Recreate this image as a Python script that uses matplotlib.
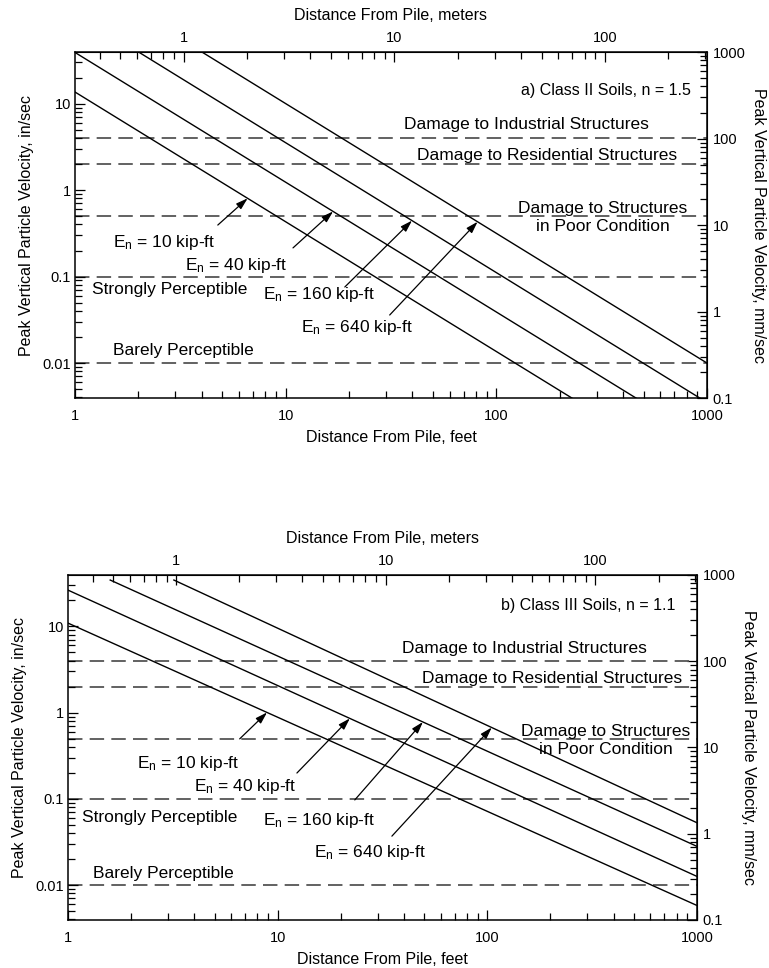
import matplotlib
matplotlib.use("Agg")
import matplotlib.pyplot as plt
import matplotlib.ticker as mticker
import numpy as np

plt.rcParams["font.family"] = ["Liberation Sans", "DejaVu Sans"]
plt.rcParams["mathtext.fontset"] = "custom"
plt.rcParams["mathtext.rm"] = "Liberation Sans"
plt.rcParams["mathtext.it"] = "Liberation Sans"

MM_PER_IN = 25.4
M_PER_FT = 0.3048

# axis ranges: feet / in/sec on main axes, meters / mm/sec on the secondary ones
dist_ft_lim = (1, 1000)
ppv_mm_lim = (0.1, 1000)

# labelled tick values
ft_ticks = [1, 10, 100, 1000]
m_ticks = [1, 10, 100]
in_ticks = [0.01, 0.1, 1, 10]
mm_ticks = [0.1, 1, 10, 100, 1000]

energy_kipft = ["10", "40", "160", "640"]

# vibration criteria (in/sec)
criteria_ppv = [4.0, 2.0, 0.5, 0.1, 0.01]

# Class II soils, n = 1.5 - end points of each E_n line
ii_dist_start = [1, 1, 1, 1]
ii_ppv_start = [13.6, 39.0, 112.0, 316.0]
ii_dist_end = [1000, 1000, 1000, 1000]
ii_ppv_end = [0.00043, 0.00123, 0.0035, 0.0100]
ii_arrow_dist = [6.6, 16.8, 39.8, 81.5]

# Class III soils, n = 1.1
iii_dist_start = [1, 1, 1.59, 3.2]
iii_ppv_start = [10.9, 26.3, 34.4, 34.4]
iii_dist_end = [1000, 1000, 1000, 1000]
iii_ppv_end = [0.0058, 0.0126, 0.0281, 0.0528]
iii_arrow_dist = [8.9, 22.1, 49.3, 105.0]


def ppv_on_line(d, d0, v0, d1, v1):
    """Value of a straight log-log line at distance d."""
    t = (np.log10(d) - np.log10(d0)) / (np.log10(d1) - np.log10(d0))
    return 10 ** (np.log10(v0) + t * (np.log10(v1) - np.log10(v0)))


def fmt(v, _):
    return f"{v:g}"


def log_ticks(axis, majors):
    axis.set_major_locator(mticker.FixedLocator(majors))
    axis.set_minor_locator(mticker.LogLocator(base=10, subs=np.arange(2, 10)))
    axis.set_major_formatter(mticker.FuncFormatter(fmt))
    axis.set_minor_formatter(mticker.NullFormatter())


def draw_panel(ax, title, d0s, v0s, d1s, v1s, arrow_d, lay):
    ax.set_xscale("log")
    ax.set_yscale("log")
    ax.set_xlim(*dist_ft_lim)
    ax.set_ylim(ppv_mm_lim[0] / MM_PER_IN, ppv_mm_lim[1] / MM_PER_IN)

    # criteria lines
    for v in criteria_ppv:
        ax.axhline(v, color="#555555", lw=1.3, ls=(0, (8, 4)), zorder=1)

    # attenuation lines
    for d0, v0, d1, v1 in zip(d0s, v0s, d1s, v1s):
        ax.plot([d0, d1], [v0, v1], color="black", lw=1.0, zorder=2)

    tk = dict(fontsize=12.5, transform=ax.transAxes, zorder=3)
    ax.text(lay["title"][0], lay["title"][1], title, ha="right", va="center",
            fontsize=11.5, transform=ax.transAxes)
    ax.text(*lay["ind"], "Damage to Industrial Structures", ha="center", va="center", **tk)
    ax.text(*lay["res"], "Damage to Residential Structures", ha="center", va="center", **tk)
    ax.text(*lay["poor"], "Damage to Structures\nin Poor Condition", ha="center", va="center",
            linespacing=1.25, **tk)
    ax.text(*lay["strong"], "Strongly Perceptible", ha="left", va="center", **tk)
    ax.text(*lay["barely"], "Barely Perceptible", ha="left", va="center", **tk)

    for i, e in enumerate(energy_kipft):
        ax.text(*lay["elab"][i], r"E$_{\mathrm{n}}$ = " + e + " kip-ft",
                ha="center", va="center", **tk)
        hx = arrow_d[i]
        hy = ppv_on_line(hx, d0s[i], v0s[i], d1s[i], v1s[i])
        ax.annotate("", xy=(hx, hy), xycoords="data",
                    xytext=lay["tail"][i], textcoords="axes fraction",
                    arrowprops=dict(arrowstyle="-|>,head_length=0.7,head_width=0.22",
                                    color="black", lw=0.9, shrinkA=0, shrinkB=0))

    # feet / in/sec
    log_ticks(ax.xaxis, ft_ticks)
    log_ticks(ax.yaxis, in_ticks)
    ax.tick_params(which="both", direction="in", labelsize=10.5, width=0.9)
    ax.tick_params(which="major", length=7)
    ax.tick_params(which="minor", length=5)
    ax.tick_params(axis="x", pad=8)
    ax.tick_params(axis="y", pad=3)
    ax.set_xlabel("Distance From Pile, feet", fontsize=11.5, labelpad=5)
    ax.set_ylabel("Peak Vertical Particle Velocity, in/sec", fontsize=11.5, labelpad=6)

    # meters
    top = ax.secondary_xaxis("top", functions=(lambda x: x * M_PER_FT, lambda x: x / M_PER_FT))
    log_ticks(top.xaxis, m_ticks)
    top.tick_params(which="both", direction="in", labelsize=10.5, width=0.9, pad=5)
    top.tick_params(which="major", length=7)
    top.tick_params(which="minor", length=5)
    top.set_xlabel("Distance From Pile, meters", fontsize=11.5, labelpad=8)

    # mm/sec
    right = ax.secondary_yaxis("right", functions=(lambda v: v * MM_PER_IN, lambda v: v / MM_PER_IN))
    log_ticks(right.yaxis, mm_ticks)
    right.tick_params(which="both", direction="in", labelsize=10.5, width=0.9, pad=4)
    right.tick_params(which="major", length=7)
    right.tick_params(which="minor", length=5)
    right.set_ylabel("Peak Vertical Particle Velocity, mm/sec", fontsize=11.5,
                     rotation=270, va="bottom", labelpad=4)

    for s in ax.spines.values():
        s.set_linewidth(1.1)


fig = plt.figure(figsize=(7.69, 9.68), dpi=100, facecolor="white")
ax_top = fig.add_axes([0.0975, 0.5888, 0.8218, 0.3574])
ax_bot = fig.add_axes([0.0884, 0.0496, 0.8179, 0.3564])

layout_ii = {
    "title": (0.975, 0.890),
    "ind": (0.715, 0.792),
    "res": (0.747, 0.702),
    "poor": (0.835, 0.523),
    "strong": (0.027, 0.315),
    "barely": (0.060, 0.136),
    "elab": [(0.141, 0.451), (0.255, 0.382), (0.386, 0.298), (0.446, 0.205)],
    "tail": [(0.226, 0.500), (0.345, 0.434), (0.427, 0.321), (0.498, 0.240)],
}
layout_iii = {
    "title": (0.965, 0.913),
    "ind": (0.725, 0.788),
    "res": (0.769, 0.699),
    "poor": (0.855, 0.519),
    "strong": (0.022, 0.296),
    "barely": (0.040, 0.136),
    "elab": [(0.191, 0.455), (0.281, 0.386), (0.399, 0.287), (0.480, 0.197)],
    "tail": [(0.273, 0.525), (0.364, 0.426), (0.456, 0.348), (0.515, 0.243)],
}

draw_panel(ax_top, "a) Class II Soils, n = 1.5",
           ii_dist_start, ii_ppv_start, ii_dist_end, ii_ppv_end, ii_arrow_dist, layout_ii)
draw_panel(ax_bot, "b) Class III Soils, n = 1.1",
           iii_dist_start, iii_ppv_start, iii_dist_end, iii_ppv_end, iii_arrow_dist, layout_iii)

fig.savefig("out.png", dpi=100, facecolor="white")
